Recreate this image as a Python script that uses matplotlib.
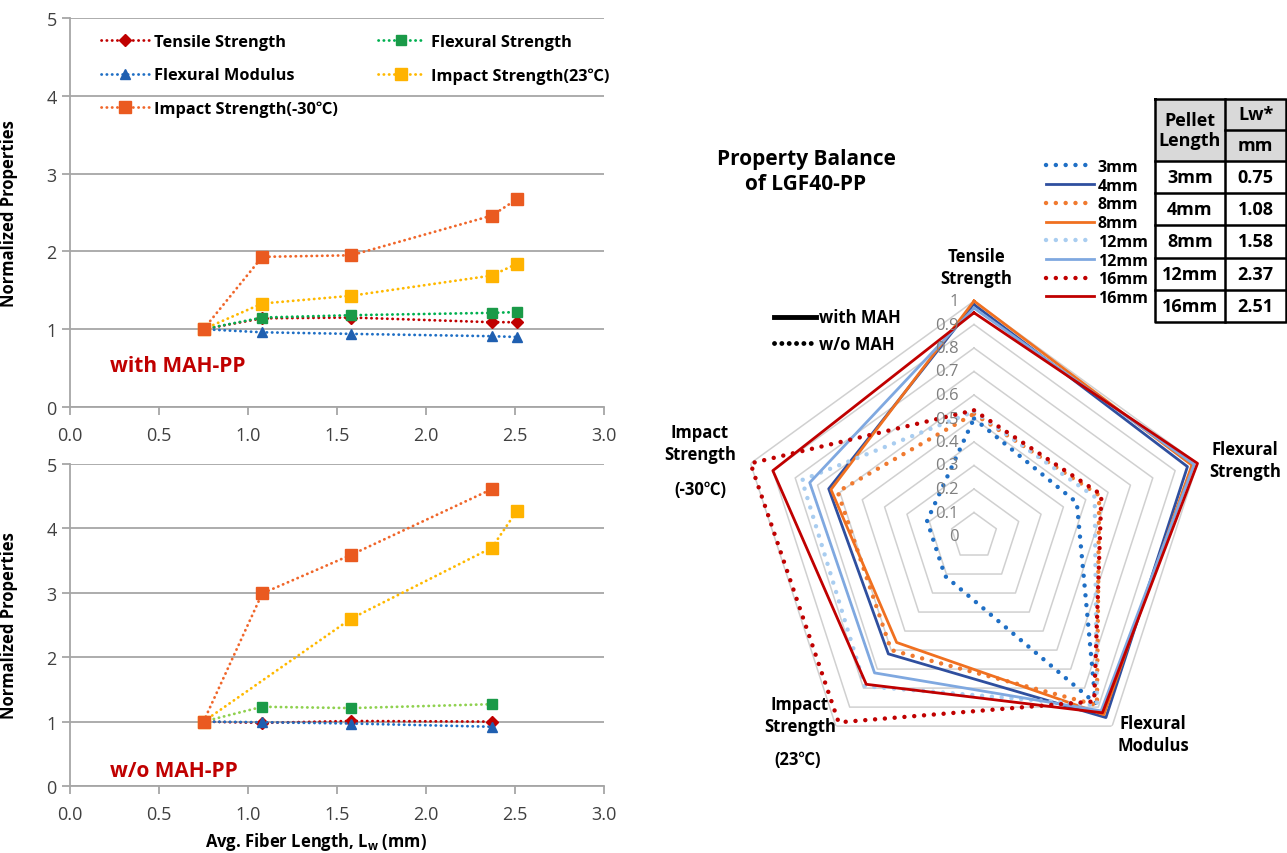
import matplotlib
matplotlib.use("Agg")
import matplotlib.pyplot as plt
import numpy as np
from matplotlib.lines import Line2D
from matplotlib.patches import Rectangle
from matplotlib.transforms import offset_copy

# ---------------- data ----------------
lw_mm = [0.75, 1.08, 1.58, 2.37, 2.51]
pellet = ["3mm", "4mm", "8mm", "12mm", "16mm"]

# with MAH-PP (normalizado pelo 0.75 mm)
mah_tensile = [1.00, 1.14, 1.15, 1.09, 1.09]
mah_flex_str = [1.00, 1.15, 1.18, 1.21, 1.22]
mah_flex_mod = [1.00, 0.96, 0.94, 0.91, 0.90]
mah_imp23 = [1.00, 1.33, 1.43, 1.69, 1.84]
mah_imp30 = [1.00, 1.93, 1.95, 2.46, 2.67]

# w/o MAH-PP
wo_x = [0.75, 1.08, 1.58, 2.37]
wo_tensile = [1.00, 0.98, 1.01, 1.00]
wo_flex_str = [1.00, 1.23, 1.21, 1.27]
wo_flex_mod = [1.00, 0.99, 0.97, 0.92]
wo_imp23_x = [0.75, 1.58, 2.37, 2.51]
wo_imp23 = [1.00, 2.60, 3.70, 4.27]
wo_imp30 = [1.00, 2.99, 3.59, 4.61]

# radar
radar_axes = ["Tensile", "Flexural Strength", "Flexural Modulus", "Impact 23", "Impact -30"]
radar_names = ["3mm", "4mm", "8mm", "8mm", "12mm", "12mm", "16mm", "16mm"]
radar_mah = [False, True, False, True, False, True, False, True]
radar_colors = ["#1f6fc5", "#2f4f9f", "#f07a30", "#f07020",
                "#a9cdf0", "#7fa8e0", "#c00000", "#c00000"]
radar_vals = [
    [0.50, 0.46, 0.88, 0.21, 0.21],
    [0.985, 0.955, 0.955, 0.62, 0.65],
    [0.52, 0.56, 0.89, 0.60, 0.61],
    [1.00, 0.975, 0.94, 0.56, 0.64],
    [0.53, 0.54, 0.89, 0.79, 0.77],
    [0.97, 0.985, 0.92, 0.72, 0.735],
    [0.535, 0.57, 0.87, 0.98, 1.00],
    [0.95, 1.00, 0.93, 0.78, 0.90],
]
radar_levels = [0.0, 0.1, 0.2, 0.3, 0.4, 0.5, 0.6, 0.7, 0.8, 0.9, 1.0]

# ---------------- estilo ----------------
W, H = 1287, 854
plt.rcParams["font.family"] = ["Open Sans", "Noto Sans CJK KR", "DejaVu Sans"]
plt.rcParams["mathtext.fontset"] = "custom"
plt.rcParams["mathtext.bf"] = "Open Sans:bold"
plt.rcParams["mathtext.rm"] = "Open Sans"


def px(x, y):
    return x / W, 1 - y / H


fig = plt.figure(figsize=(W / 100, H / 100), dpi=100)

DOT = (0, (0.1, 1.8))


def serie(ax, x, y, cor, cor_m, marker, ms, label):
    ax.plot(x, y, color=cor, lw=2, linestyle=DOT, dash_capstyle="round",
            marker=marker, ms=ms, mfc=cor_m, mec=cor_m, label=label,
            clip_on=False, zorder=3)


def arruma_eixo(ax):
    ax.set_xlim(0, 3)
    ax.set_ylim(0, 5)
    ax.set_xticks(np.arange(0, 3.01, 0.5))
    ax.set_xticklabels([f"{v:.1f}" for v in np.arange(0, 3.01, 0.5)])
    ax.set_yticks(range(6))
    ax.yaxis.grid(True, color="#a6a6a6", lw=1.3)
    ax.set_axisbelow(True)
    for s in ["top", "right"]:
        ax.spines[s].set_visible(False)
    for s in ["left", "bottom"]:
        ax.spines[s].set_color("#a6a6a6")
        ax.spines[s].set_linewidth(1.3)
    ax.tick_params(axis="both", colors="#a6a6a6", labelcolor="#404040",
                   labelsize=13, length=6, width=1.3)
    ax.tick_params(axis="x", pad=8)
    ax.set_ylabel("Normalized Properties", fontsize=12, fontweight="bold")
    ax.yaxis.set_label_coords(-52 / 534, 0.5)


# ---------------- with MAH-PP ----------------
ax1 = fig.add_axes([70 / W, 1 - 408 / H, 534 / W, 389 / H])
arruma_eixo(ax1)
serie(ax1, lw_mm, mah_tensile, "#c00000", "#c00000", "D", 6, "Tensile Strength")
serie(ax1, lw_mm, mah_flex_str, "#00b050", "#1a9a48", "s", 7.5, "Flexural Strength")
serie(ax1, lw_mm, mah_flex_mod, "#1f6fc5", "#1f5fb0", "^", 7.5, "Flexural Modulus")
serie(ax1, lw_mm, mah_imp23, "#ffb900", "#ffb300", "s", 8, "Impact Strength(23℃)")
serie(ax1, lw_mm, mah_imp30, "#f0662a", "#ea5a20", "s", 8, "Impact Strength(-30℃)")
ax1.text(40 / 534, (408 - 367) / 389, "with MAH-PP", transform=ax1.transAxes,
         color="#c00000", fontsize=15, fontweight="bold", va="center")

h, l = ax1.get_legend_handles_labels()
ordem = [0, 2, 4, 1, 3]
ax1.legend([h[i] for i in ordem], [l[i] for i in ordem], ncol=2,
           loc="upper left", bbox_to_anchor=(93 / W, 1 - 27 / H),
           bbox_transform=fig.transFigure, frameon=False, numpoints=1,
           handlelength=2.9, handletextpad=0.35, columnspacing=2.4,
           labelspacing=1.05, borderpad=0, prop={"size": 11.8, "weight": "bold"})

# ---------------- w/o MAH-PP ----------------
ax2 = fig.add_axes([70 / W, 1 - 787 / H, 534 / W, 322 / H])
arruma_eixo(ax2)
serie(ax2, wo_x, wo_tensile, "#c00000", "#c00000", "D", 6, "Tensile Strength")
serie(ax2, wo_x, wo_flex_str, "#8fd14f", "#1a9a48", "s", 7.5, "Flexural Strength")
serie(ax2, wo_x, wo_flex_mod, "#1f6fc5", "#1f5fb0", "^", 7.5, "Flexural Modulus")
serie(ax2, wo_imp23_x, wo_imp23, "#ffb900", "#ffb300", "s", 8, "Impact Strength(23℃)")
serie(ax2, wo_x, wo_imp30, "#f0662a", "#ea5a20", "s", 8, "Impact Strength(-30℃)")
ax2.text(40 / 534, (787 - 772) / 322, "w/o MAH-PP", transform=ax2.transAxes,
         color="#c00000", fontsize=15, fontweight="bold", va="center")
fig.text(*px(316, 842), r"Avg. Fiber Length, L$_\mathbf{w}$ (mm)", ha="center",
         va="center", fontsize=12, fontweight="bold")

# ---------------- radar ----------------
rad = fig.add_axes([739 / W, 1 - 772 / H, 470 / W, 470 / H], projection="polar")
rad.set_theta_offset(np.pi / 2)
rad.set_theta_direction(-1)
rad.set_ylim(0, 1)
rad.set_xticks([])
rad.set_yticks([])
rad.grid(False)
rad.spines["polar"].set_visible(False)
rad.patch.set_alpha(0)

ang = np.linspace(0, 2 * np.pi, len(radar_axes), endpoint=False)
ang_f = np.append(ang, ang[0])

for lv in radar_levels[1:]:
    rad.plot(ang_f, [lv] * len(ang_f), color="#d0d0d0", lw=1.1, zorder=1)

handles = []
for nome, mah, cor, vals in zip(radar_names, radar_mah, radar_colors, radar_vals):
    v = vals + vals[:1]
    if mah:
        ln, = rad.plot(ang_f, v, color=cor, lw=2.0, clip_on=False, zorder=3, label=nome)
    else:
        ln, = rad.plot(ang_f, v, color=cor, lw=3.2, linestyle=(0, (0.01, 2.2)),
                       dash_capstyle="round", clip_on=False, zorder=3, label=nome)
    handles.append(ln)

tr = offset_copy(rad.transData, fig=fig, x=-15, y=0, units="dots")
for lv in radar_levels:
    rad.text(0, lv, f"{lv:g}", transform=tr, ha="right", va="center",
             color="#7f7f7f", fontsize=12, zorder=4)

fig.legend(handles=handles, loc="upper left", bbox_to_anchor=(1038 / W, 1 - 152 / H),
           frameon=False, handlelength=3.0, handletextpad=0.25, labelspacing=0.17,
           borderpad=0, prop={"size": 11.5, "weight": "bold"})

mah_h = [Line2D([], [], color="black", lw=3.5),
         Line2D([], [], color="black", lw=3.5, linestyle=(0, (0.01, 1.5)),
                dash_capstyle="round")]
fig.legend(handles=mah_h, labels=["with MAH", "w/o MAH"], loc="upper left",
           bbox_to_anchor=(766 / W, 1 - 301 / H), frameon=False, handlelength=2.5,
           handletextpad=0.2, labelspacing=0.5, borderpad=0,
           prop={"size": 12, "weight": "bold"})

fig.text(*px(806, 172), "Property Balance\nof LGF40-PP", ha="center", va="center",
         fontsize=15, fontweight="bold", linespacing=1.3)

kw = dict(ha="center", va="center", fontsize=12, fontweight="bold", linespacing=1.35)
fig.text(*px(976, 268), "Tensile\nStrength", **kw)
fig.text(*px(1245, 461), "Flexural\nStrength", **kw)
fig.text(*px(1153, 735), "Flexural\nModulus", **kw)
fig.text(*px(800, 716), "Impact\nStrength", **kw)
fig.text(*px(798, 760), "(23℃)", **kw)
fig.text(*px(700, 444), "Impact\nStrength", **kw)
fig.text(*px(700, 490), "(-30℃)", **kw)

# ---------------- tabela ----------------
tab = fig.add_axes([1155 / W, 1 - 323 / H, 131 / W, 223 / H])
tab.set_xlim(0, 131)
tab.set_ylim(223, 0)
tab.axis("off")
col = 70
head = 62
row_h = (223 - head) / len(pellet)
tab.add_patch(Rectangle((0, 0), 131, head, facecolor="#d9d9d9", edgecolor="none"))
lw_b = 1.8
tab.plot([0, 131, 131, 0, 0], [0, 0, 223, 223, 0], color="black", lw=lw_b, clip_on=False)
tab.plot([col, col], [0, 223], color="black", lw=lw_b, clip_on=False)
tab.plot([col, 131], [head / 2, head / 2], color="black", lw=lw_b, clip_on=False)
for i in range(len(pellet)):
    y0 = head + i * row_h
    tab.plot([0, 131], [y0, y0], color="black", lw=lw_b, clip_on=False)
    tab.text(col / 2, y0 + row_h / 2, pellet[i], ha="center", va="center",
             fontsize=13, fontweight="bold")
    tab.text((col + 131) / 2, y0 + row_h / 2, f"{lw_mm[i]:.2f}", ha="center",
             va="center", fontsize=13, fontweight="bold")
tab.text(col / 2, head / 2, "Pellet\nLength", ha="center", va="center",
         fontsize=13, fontweight="bold", linespacing=1.1)
tab.text((col + 131) / 2, head / 4, "Lw*", ha="center", va="center",
         fontsize=13, fontweight="bold")
tab.text((col + 131) / 2, head * 3 / 4, "mm", ha="center", va="center",
         fontsize=13, fontweight="bold")

fig.savefig("out.png", dpi=100)
